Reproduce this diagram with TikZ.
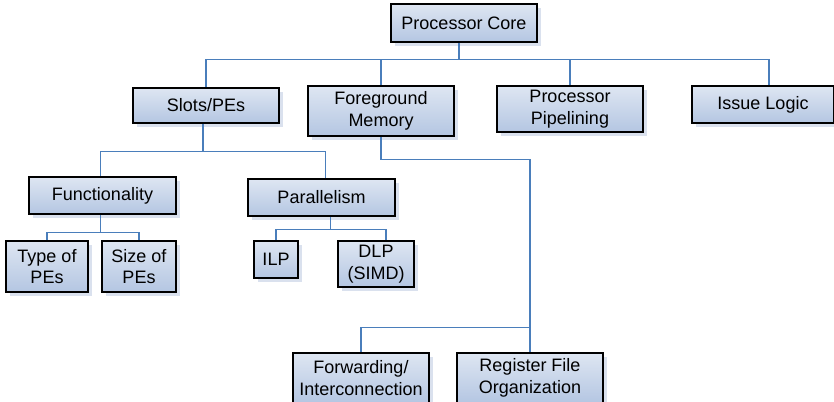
\documentclass[tikz,border=0pt]{standalone}
\usepackage{fontspec}
\setmainfont{Liberation Sans}
\usetikzlibrary{shadows}
\definecolor{boxtop}{RGB}{222,230,242}
\definecolor{boxbot}{RGB}{180,198,226}
\definecolor{shadowc}{RGB}{218,225,238}
\definecolor{linkc}{RGB}{74,126,187}
\begin{document}
\begin{tikzpicture}[x=1pt,y=-1pt,
    box/.style={draw=black,line width=1.6pt,top color=boxtop,bottom color=boxbot,
      align=center,inner sep=0pt,font=\fontsize{18}{21.5}\selectfont,
      drop shadow={fill=shadowc,opacity=1,shadow xshift=4pt,shadow yshift=-4pt}},
    link/.style={draw=linkc,line width=1.2pt}]
    \useasboundingbox (0,0) rectangle (834,401);
    \node (core) [box,minimum width=146pt,minimum height=38pt] at (464,23) {Processor Core};
    \node (slots) [box,minimum width=146pt,minimum height=35pt] at (206,105.5) {Slots/PEs};
    \node (fg) [box,minimum width=146pt,minimum height=50pt] at (381,111) {Foreground\\Memory};
    \node (pipe) [box,minimum width=146pt,minimum height=46pt] at (570,109) {Processor\\Pipelining};
    \node (issue) [box,minimum width=142pt,minimum height=37pt] at (763,104.5) {Issue Logic};
    \node (func) [box,minimum width=147pt,minimum height=37pt] at (102.5,195.5) {Functionality};
    \node (par) [box,minimum width=147pt,minimum height=37pt] at (321.5,197.5) {Parallelism};
    \node (type) [box,minimum width=82pt,minimum height=51pt] at (47,266.5) {Type of\\PEs};
    \node (size) [box,minimum width=74pt,minimum height=51pt] at (139,266.5) {Size of\\PEs};
    \node (ilp) [box,minimum width=44pt,minimum height=37pt] at (276,259.5) {ILP};
    \node (dlp) [box,minimum width=76pt,minimum height=46pt] at (376,264) {DLP\\(SIMD)};
    \node (fwd) [box,minimum width=136pt,minimum height=50pt] at (361,378) {Forwarding/\\Interconnection};
    \node (reg) [box,minimum width=146pt,minimum height=50pt] at (530,378) {Register File\\Organization};
    \draw [link] ([xshift=-5pt]core.south) -- ++(0,17) -| (slots.north);
    \draw [link] ([xshift=-5pt]core.south) -- ++(0,17) -| (fg.north);
    \draw [link] ([xshift=-5pt]core.south) -- ++(0,17) -| (pipe.north);
    \draw [link] ([xshift=-5pt]core.south) -- ++(0,17) -| ([xshift=6pt]issue.north);
    \draw [link] ([xshift=-3pt]slots.south) -- ++(0,28) -| ([xshift=-2pt]func.north);
    \draw [link] ([xshift=-3pt]slots.south) -- ++(0,28) -| ([xshift=4pt]par.north);
    \draw [link] ([xshift=-2pt]func.south) -- ++(0,18) -| (type.north);
    \draw [link] ([xshift=-2pt]func.south) -- ++(0,18) -| (size.north);
    \draw [link] ([xshift=9pt]par.south) -- ++(0,13) -| (ilp.north);
    \draw [link] ([xshift=9pt]par.south) -- ++(0,13) -| ([xshift=10pt]dlp.north);
    \draw [link] (fg.south) -- ++(0,23) -| (reg.north);
    \draw [link] (fwd.north) -- ++(0,-25) -| (reg.north);
\end{tikzpicture}
\end{document}
